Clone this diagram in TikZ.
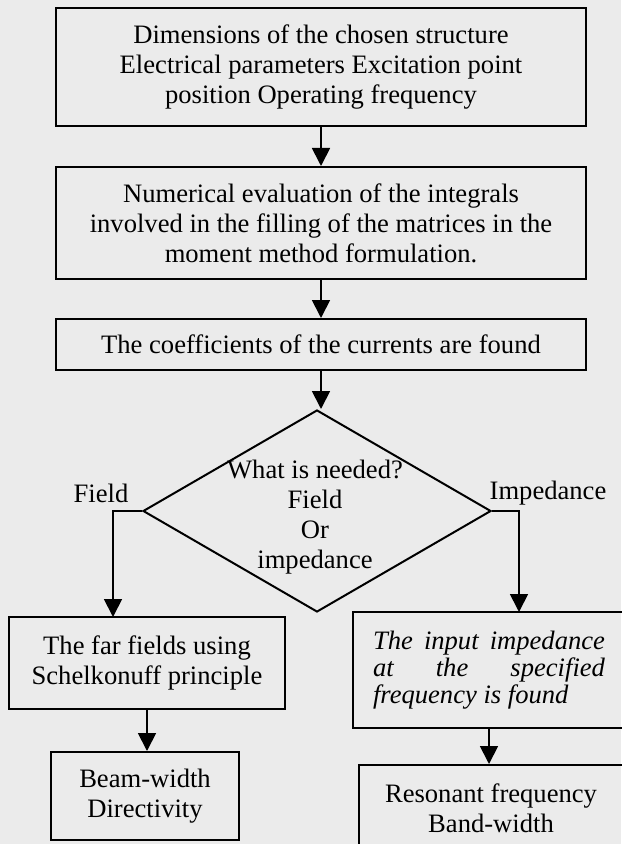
\documentclass[tikz,border=0pt]{standalone}
\usepackage{fontspec}
\setmainfont{Liberation Serif}
\usetikzlibrary{shapes.geometric}
\usetikzlibrary{arrows.meta}
\definecolor{scan}{gray}{0.92}

\begin{document}
\begin{tikzpicture}[x=0.5pt,y=-0.5pt,
  block/.style={draw,line width=1pt,inner sep=0pt,align=center,font=\fontsize{13.3}{15}\selectfont},
  decision/.style={draw,line width=1pt,diamond,inner sep=0pt,minimum width=174pt,minimum height=101pt},
  flow/.style={draw,line width=0.9pt,-{Triangle[width=9pt,length=9pt]}},
  lbl/.style={font=\fontsize{13.3}{15}\selectfont}]
  \path[use as bounding box,fill=scan] (0,0) rectangle (621,844);
  %main column
  \node[block,minimum width=265pt,minimum height=59pt] (input) at (321,67) {Dimensions of the chosen structure\\Electrical parameters Excitation point\\position Operating frequency};
  \node[block,minimum width=265pt,minimum height=56pt] (integrals) at (321,223) {Numerical evaluation of the integrals\\involved in the filling of the matrices in the\\moment method formulation.};
  \node[block,minimum width=265pt,minimum height=25.5pt] (coeff) at (321,344.5) {The coefficients of the currents are found};
  %decision
  \node[decision] (need) at (317,511) {};
  \node[lbl,align=center] (needtext) at (315,517) {What is needed?\\Field\\Or\\impedance};
  \node[lbl] (fieldlbl) at (101,493) {Field};
  \node[lbl] (implbl) at (548,493) {Impedance};
  %left branch
  \node[block,minimum width=138pt,minimum height=46pt] (farfield) at (147,663) {The far fields using\\Schelkonuff principle};
  \node[block,minimum width=94pt,minimum height=44pt] (beam) at (145,796) {Beam-width\\Directivity};
  %right branch
  \node[block,font=\fontsize{13.3}{13.5}\selectfont\itshape,align=justify,text width=116pt,minimum width=136pt,minimum height=58pt] (impedance) at (489,670) {The input impedance \linebreak at the specified \linebreak frequency is found};
  \node[block,minimum width=132pt,minimum height=43.5pt] (resonant) at (491,808.5) {Resonant frequency\\Band-width};
  \coordinate (fieldin) at (113,617);
  \coordinate (impin) at (519,612);

  %arrows
  \draw[flow] (input.south) -- (integrals.north);
  \draw[flow] (integrals.south) -- (coeff.north);
  \draw[flow] (coeff.south) -- (coeff.south |- need.north);
  \draw[flow] (need.west) -| (fieldin);
  \draw[flow] (need.east) -| (impin);
  \draw[flow] (farfield.south) -- (farfield.south |- beam.north);
  \draw[flow] (impedance.south) -- (impedance.south |- resonant.north);
\end{tikzpicture}
\end{document}
